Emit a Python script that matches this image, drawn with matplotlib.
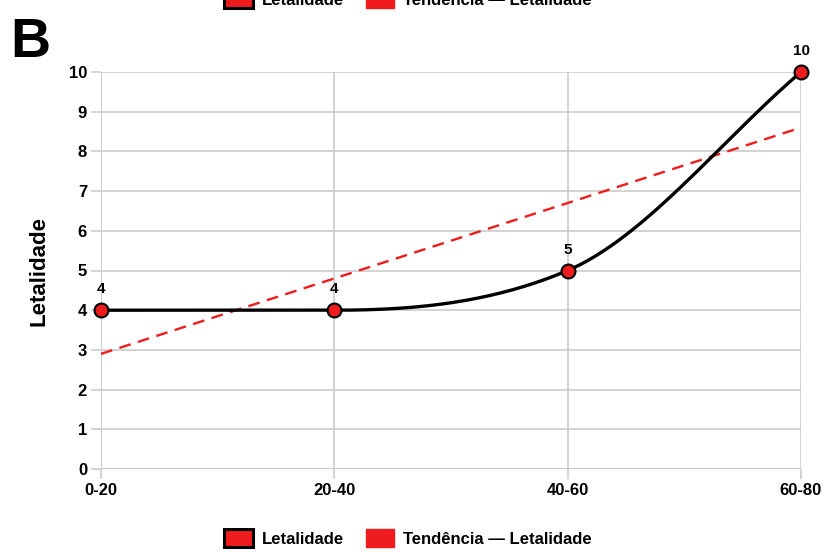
import numpy as np
import matplotlib
matplotlib.use("Agg")
import matplotlib.pyplot as plt
from matplotlib.patches import Patch

plt.rcParams['font.family'] = ['Liberation Sans', 'DejaVu Sans']

# data
faixas = ["0-20", "20-40", "40-60", "60-80"]
letalidade = [4, 4, 5, 10]
y_ticks = [0, 1, 2, 3, 4, 5, 6, 7, 8, 9, 10]

# tangents used for the smooth ("function") curve through the points
curve_slopes = [0, 0, 2.5, 5]

RED = "#ee1c1c"
GRID = "#cccccc"

x = np.arange(len(faixas))
y = np.array(letalidade, dtype=float)

# smooth curve: piecewise cubic hermite
xs, ys = [], []
for i in range(len(x) - 1):
    t = np.linspace(0, 1, 60)
    h00 = 2*t**3 - 3*t**2 + 1
    h10 = t**3 - 2*t**2 + t
    h01 = -2*t**3 + 3*t**2
    h11 = t**3 - t**2
    xs.append(x[i] + t)
    ys.append(h00*y[i] + h10*curve_slopes[i] + h01*y[i+1] + h11*curve_slopes[i+1])
xs = np.concatenate(xs)
ys = np.concatenate(ys)

# linear trend line
coef = np.polyfit(x, y, 1)
trend = np.polyval(coef, x)

fig = plt.figure(figsize=(8.25, 5.52), dpi=100)
ax = fig.add_axes([101/825, 1-469/552, 700/825, 397/552])

ax.plot(x, trend, color=RED, lw=1.7, ls=(0, (5, 3.2)), zorder=3)
ax.plot(xs, ys, color="black", lw=2.4, zorder=4, solid_capstyle="round")
ax.plot(x, y, "o", ms=10, mfc=RED, mec="black", mew=1.5, zorder=5, clip_on=False)

for xi, yi in zip(x, letalidade):
    ax.annotate(str(yi), (xi, yi), xytext=(0, 10), textcoords="offset points",
                ha="center", va="bottom", fontsize=11, fontweight="bold")

ax.set_xlim(0, 3)
ax.set_ylim(0, 10)
ax.set_xticks(x)
ax.set_xticklabels(faixas)
ax.set_yticks(y_ticks)
ax.grid(True, color=GRID, lw=1.2, zorder=0)
for s in ax.spines.values():
    s.set_visible(False)
ax.axhline(0, color="#bdbdbd", lw=1.5, zorder=1)
ax.axvline(0, color=GRID, lw=1.2, zorder=1)
ax.tick_params(axis="both", length=7, width=1.2, color=GRID, labelsize=12)
ax.tick_params(axis="y", pad=3)
ax.tick_params(axis="x", pad=3)
for lab in ax.get_xticklabels() + ax.get_yticklabels():
    lab.set_fontweight("bold")
ax.set_ylabel("Letalidade", fontsize=16, fontweight="bold", labelpad=14)

# panel letters
fig.text(10/825, 1-57/552, "B", fontsize=40, fontweight="bold", ha="left", va="baseline")
fig.text(18/825, 1-592/552, "C", fontsize=40, fontweight="bold", ha="left", va="baseline")

handles = [Patch(facecolor=RED, edgecolor="black", lw=2.2, label="Letalidade"),
           Patch(facecolor=RED, edgecolor=RED, lw=1, label="Tendência — Letalidade")]
for cy in [1 - 538/552, 1 + 1/552]:
    fig.legend(handles=handles, loc="center", bbox_to_anchor=(408/825, cy), ncol=2,
               frameon=False, handlelength=1.7, handleheight=1.2,
               handletextpad=0.55, columnspacing=1.3,
               prop={"weight": "bold", "size": 12})

fig.savefig("out.png", dpi=100)
